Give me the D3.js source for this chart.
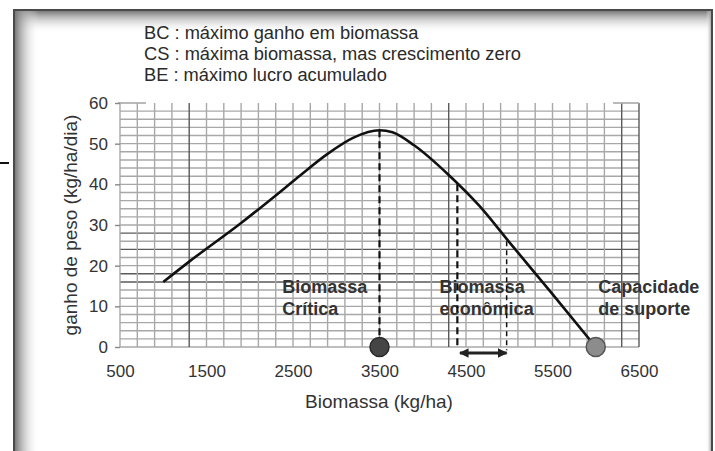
<!DOCTYPE html>
<html><head><meta charset="utf-8">
<script src="https://cdn.jsdelivr.net/npm/d3@7"></script>
<style>
html,body{margin:0;padding:0;background:#fff;}
svg{display:block;font-family:"Liberation Sans",Arial,sans-serif;}
</style></head>
<body>
<svg id="c" width="715" height="451"></svg>
<script>
// ---- data ----
const xTicks = [500, 1500, 2500, 3500, 4500, 5500, 6500];
const yTicks = [0, 10, 20, 30, 40, 50, 60];
const biomassa = [1000, 1300, 1900, 2400, 2600, 2900, 3200, 3500, 3650, 3900, 4300, 4650, 5000, 5500, 6000];
const ganho    = [16, 21, 30.5, 39, 42.5, 47.5, 51.5, 53.3, 52.8, 49.6, 42.3, 34.8, 25.8, 13, 0];
const refX     = [3500, 4400, 4970];
const refY     = [53.3, 40, 26];
const pointX   = [3500, 6000];
const arrowX   = [4430, 4970];
const legendLines = ["BC : máximo ganho em biomassa", "CS : máxima biomassa, mas crescimento zero", "BE : máximo lucro acumulado"];
const labelText = [["Biomassa", "Crítica"], ["Biomassa", "econômica"], ["Capacidade", "de suporte"]];
const labelX = [2375, 4195, 6030];
const darkY = [16, 18, 24, 28];
const darkX = [1300, 4300, 6300, 6500];

const svg = d3.select("#c");
const x = d3.scaleLinear().domain([500, 6500]).range([120, 639]);
const y = d3.scaleLinear().domain([0, 60]).range([347, 103]);

// ---- frame ----
const defs = svg.append("defs");
const gT = defs.append("linearGradient").attr("id","gT").attr("x1",0).attr("y1",0).attr("x2",0).attr("y2",1);
gT.append("stop").attr("offset",0).attr("stop-color","#7a7a7a").attr("stop-opacity",1);
gT.append("stop").attr("offset",1).attr("stop-color","#ffffff").attr("stop-opacity",0);
const gL = defs.append("linearGradient").attr("id","gL").attr("x1",0).attr("y1",0).attr("x2",1).attr("y2",0);
gL.append("stop").attr("offset",0).attr("stop-color","#7a7a7a").attr("stop-opacity",1);
gL.append("stop").attr("offset",1).attr("stop-color","#ffffff").attr("stop-opacity",0);
const gR = defs.append("linearGradient").attr("id","gR").attr("x1",1).attr("y1",0).attr("x2",0).attr("y2",0);
gR.append("stop").attr("offset",0).attr("stop-color","#909090").attr("stop-opacity",1);
gR.append("stop").attr("offset",1).attr("stop-color","#ffffff").attr("stop-opacity",0);

svg.append("rect").attr("x",15).attr("y",11).attr("width",697).attr("height",22).attr("fill","url(#gT)");
svg.append("rect").attr("x",15).attr("y",11).attr("width",24).attr("height",440).attr("fill","url(#gL)");
svg.append("rect").attr("x",706).attr("y",11).attr("width",6).attr("height",440).attr("fill","url(#gR)");
svg.append("path").attr("d","M14,451V10H712V451").attr("fill","none").attr("stroke","#4a4a4a").attr("stroke-width",2);
svg.append("line").attr("x1",0).attr("x2",9).attr("y1",163).attr("y2",163).attr("stroke","#111").attr("stroke-width",2);

// ---- legend text ----
svg.append("g").selectAll("text").data(legendLines).join("text")
  .attr("x",144).attr("y",(d,i)=>39 + i*21)
  .attr("font-size",18.3).attr("fill","#2a2a2a").text(d=>d);

// ---- grid ----
const grid = svg.append("g");
const hVals = d3.range(0, 60, 2);
grid.selectAll("line.h").data(hVals).join("line").attr("class","h")
  .attr("x1",x(500)).attr("x2",x(6500)).attr("y1",d=>y(d)).attr("y2",d=>y(d))
  .attr("stroke",d=>darkY.includes(d)?"#5a5a5a":"#a8a8a8").attr("stroke-width",1.4);
const vVals = d3.range(500, 6501, 200);
grid.selectAll("line.v").data(vVals).join("line").attr("class","v")
  .attr("x1",d=>x(d)).attr("x2",d=>x(d)).attr("y1",y(60)).attr("y2",y(0))
  .attr("stroke",d=>darkX.includes(d)?"#5a5a5a":"#a8a8a8").attr("stroke-width",1.4);
grid.append("line").attr("x1",x(500)-2).attr("x2",x(800)).attr("y1",y(60)).attr("y2",y(60)).attr("stroke","#a8a8a8").attr("stroke-width",1.6);
grid.append("line").attr("x1",x(6200)).attr("x2",x(6500)).attr("y1",y(60)).attr("y2",y(60)).attr("stroke","#a8a8a8").attr("stroke-width",1.6);

// ---- axes ----
const yAxis = svg.append("g").attr("transform",`translate(${x(500)},0)`)
  .call(d3.axisLeft(y).tickValues(yTicks).tickSize(5).tickPadding(7));
yAxis.select(".domain").remove();
yAxis.selectAll("line").attr("stroke","#888").attr("stroke-width",1.4);
yAxis.selectAll("text").attr("font-size",17).attr("fill","#333").attr("font-family","Liberation Sans, Arial, sans-serif");

const xAxis = svg.append("g").attr("transform",`translate(0,${y(0)})`)
  .call(d3.axisBottom(x).tickValues(xTicks).tickSize(0).tickPadding(18).tickFormat(d3.format("d")));
xAxis.select(".domain").remove();
xAxis.selectAll("text").attr("font-size",17).attr("fill","#333").attr("font-family","Liberation Sans, Arial, sans-serif");

svg.append("text").attr("x",379).attr("y",408).attr("text-anchor","middle")
  .attr("font-size",19).attr("fill","#333").text("Biomassa (kg/ha)");
svg.append("text").attr("transform",`translate(77,225) rotate(-90)`).attr("text-anchor","middle")
  .attr("font-size",19).attr("fill","#333").text("ganho de peso (kg/ha/dia)");

// ---- labels ----
const lab = svg.append("g").attr("font-weight","bold").attr("font-size",18).attr("fill","#333");
labelText.forEach((lines,i)=>{
  const t = lab.append("text").attr("x", x(labelX[i]));
  lines.forEach((s,j)=>t.append("tspan").attr("x", x(labelX[i])).attr("y",293 + j*22).text(s));
});

// ---- reference dashed lines ----
svg.append("g").selectAll("line").data(refX).join("line")
  .attr("x1",d=>x(d)).attr("x2",d=>x(d)).attr("y1",(d,i)=>y(refY[i])).attr("y2",(d,i)=>i===2?y(-0.8):y(0))
  .attr("stroke","#111").attr("stroke-width",(d,i)=>i===2?1.5:2.2)
  .attr("stroke-dasharray",(d,i)=>i===2?"5,4":"7,4");

// ---- curve ----
const pts = biomassa.map((b,i)=>[b, ganho[i]]);
svg.append("path").datum(pts)
  .attr("d", d3.line().x(d=>x(d[0])).y(d=>y(d[1])).curve(d3.curveMonotoneX))
  .attr("fill","none").attr("stroke","#111").attr("stroke-width",2.6);

// ---- points ----
svg.append("g").selectAll("circle").data(pointX).join("circle")
  .attr("cx",d=>x(d)).attr("cy",y(0)).attr("r",9.5)
  .attr("fill",(d,i)=>i===0?"#454545":"#8c8c8c").attr("stroke",(d,i)=>i===0?"#2a2a2a":"#555").attr("stroke-width",1.5);

// ---- double arrow ----
const ay = y(0) + 6;
defs.append("marker").attr("id","ah").attr("viewBox","0 0 10 10").attr("refX",9).attr("refY",5)
  .attr("markerWidth",3.2).attr("markerHeight",3.2).attr("orient","auto-start-reverse")
  .append("path").attr("d","M0,0L10,5L0,10Z").attr("fill","#222");
svg.append("line").attr("x1",x(arrowX[0])).attr("x2",x(arrowX[1])).attr("y1",ay).attr("y2",ay)
  .attr("stroke","#222").attr("stroke-width",3)
  .attr("marker-start","url(#ah)").attr("marker-end","url(#ah)");
</script>
</body></html>
